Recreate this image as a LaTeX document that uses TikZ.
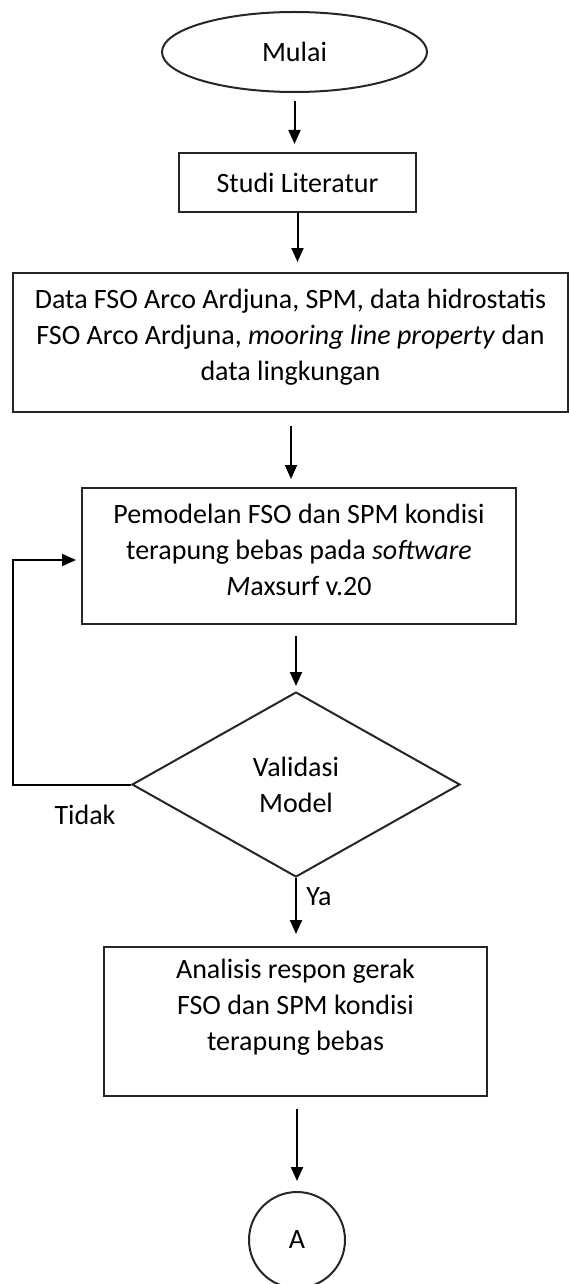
\documentclass[tikz,border=0pt]{standalone}
\usepackage{fontspec}
\setmainfont{Carlito}
\usetikzlibrary{arrows.meta,shapes.geometric,calc}
\tikzset{
  shapeline/.style={draw=black!85, line width=2pt},
  boxnode/.style={shapeline, rectangle, inner sep=0pt},
  bigfont/.style={font=\fontsize{28}{36}\selectfont},
  txt/.style={align=center, bigfont, inner sep=0pt},
  arr/.style={draw=black, line width=2pt, -{Triangle[length=14pt,width=12pt]}},
}
\begin{document}
\begin{tikzpicture}[x=1pt,y=-1pt]
\useasboundingbox (0,0) rectangle (568,1284);
% shapes
\node[shapeline, ellipse, inner sep=0pt, minimum width=265pt, minimum height=80pt,
      bigfont] (start) at (294.5,52) {Mulai};
\node[boxnode, minimum width=237pt, minimum height=59pt,
      bigfont] (studi) at (297.5,182.5) {Studi Literatur};
\node[boxnode, minimum width=555pt, minimum height=139pt] (data) at (290.5,342.5) {};
\node[txt] (datatext) at (290.5,337) {Data FSO Arco Ardjuna, SPM, data hidrostatis\\
  FSO Arco Ardjuna, \textit{mooring line property} dan\\ data lingkungan};
\node[boxnode, minimum width=434pt, minimum height=136pt] (pem) at (299,556) {};
\node[txt] (pemtext) at (299,550) {Pemodelan FSO dan SPM kondisi\\
  terapung bebas pada \textit{software}\\ \textit{M}axsurf v.20};
\node[shapeline, diamond, inner sep=0pt, minimum width=328pt, minimum height=185pt,
      txt] (val) at (296,784.5) {Validasi\\Model};
\node[boxnode, minimum width=383pt, minimum height=149pt] (ana) at (295.5,1021.5) {};
\node[txt] (anatext) at (295.5,1007) {Analisis respon gerak\\
  FSO dan SPM kondisi\\ terapung bebas};
\node[shapeline, circle, inner sep=0pt, minimum size=96pt,
      bigfont] (conA) at (297,1240) {A};
% labels
\node[txt] (tidak) at (85,815) {Tidak};
\node[txt] (ya) at (319,897) {Ya};
% connectors
\draw[arr, shorten <=8pt, shorten >=8pt] (start.south) -- (start.south |- studi.north);
\draw[arr, shorten >=10pt] (studi.south) -- (studi.south |- data.north);
\draw[arr, shorten <=13pt, shorten >=8pt] ([xshift=-8pt]data.south -| pem.north) -- ([xshift=-8pt]pem.north);
\draw[arr, shorten <=11pt, shorten >=5pt] (pem.south -| val.north) -- (val.north);
\draw[arr, shorten >=12pt] (val.south) -- (val.south |- ana.north);
\draw[arr, shorten <=12pt, shorten >=10pt] (ana.south -| conA.north) -- (conA.north);
\coordinate (loopcorner) at (13,784.5);
\draw[arr, shorten >=5pt] (val.west) -- (loopcorner) |- ([yshift=-4pt]pem.west);
\end{tikzpicture}
\end{document}
